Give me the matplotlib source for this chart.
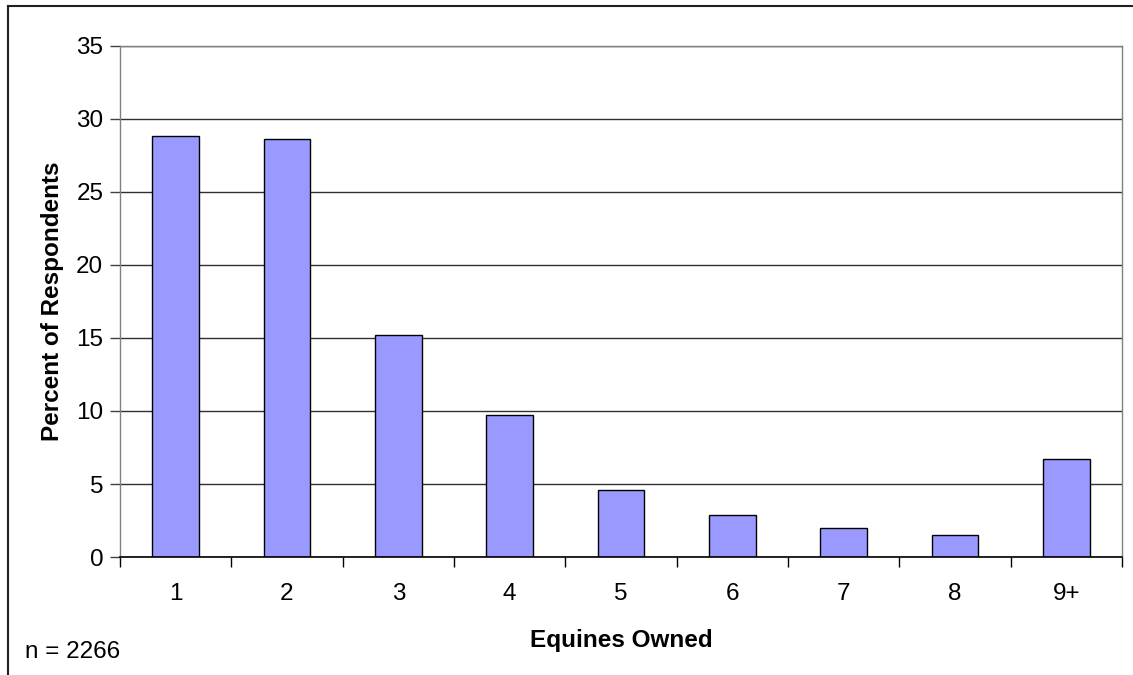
import matplotlib.pyplot as plt
from matplotlib.lines import Line2D

plt.rcParams['font.family'] = ['Liberation Sans', 'DejaVu Sans']

# data
categories = ['1', '2', '3', '4', '5', '6', '7', '8', '9+']
percent = [28.8, 28.6, 15.2, 9.7, 4.6, 2.9, 2.0, 1.5, 6.7]
y_ticks = [0, 5, 10, 15, 20, 25, 30, 35]

fig = plt.figure(figsize=(11.33, 6.75), dpi=100)
ax = fig.add_axes([0.1059, 0.1748, 0.8844, 0.7571])

x = range(len(categories))
ax.bar(x, percent, width=0.42, color='#9999FF', edgecolor='#000000',
       linewidth=1.0, zorder=3)

ax.set_xlim(-0.5, len(categories) - 0.5)
ax.set_ylim(0, 35)
ax.set_yticks(y_ticks)
ax.set_yticklabels([str(v) for v in y_ticks], fontsize=17.5)

# categories labelled in the middle, tick marks between them
ax.set_xticks(list(x))
ax.set_xticklabels(categories, fontsize=17.5)
ax.tick_params(axis='x', length=0, pad=19)
ax.set_xticks([i - 0.5 for i in range(len(categories) + 1)], minor=True)
ax.tick_params(axis='x', which='minor', length=7, width=1, color='#000000')
ax.tick_params(axis='y', length=7, width=1, color='#404040', pad=5)

ax.grid(axis='y', color='#303030', linewidth=1.0, zorder=0)

for s in ['left', 'right', 'top']:
    ax.spines[s].set_color('#808080')
    ax.spines[s].set_linewidth(1.0)
ax.spines['bottom'].set_color('#000000')
ax.spines['bottom'].set_linewidth(1.2)
ax.spines['bottom'].set_zorder(4)

ax.set_xlabel('Equines Owned', fontsize=17.5, fontweight='bold', labelpad=17)
ax.set_ylabel('Percent of Respondents', fontsize=17.5, fontweight='bold', labelpad=9)

fig.text(25 / 1133, 1 - 652 / 675, 'n = 2266', fontsize=17.5, va='center', ha='left')

# outer chart frame (only top and left edges show)
fig.add_artist(Line2D([8 / 1133, 8 / 1133], [0, 1 - 6 / 675], color='#202020',
                      linewidth=1.5, transform=fig.transFigure))
fig.add_artist(Line2D([8 / 1133, 1], [1 - 6 / 675, 1 - 6 / 675], color='#202020',
                      linewidth=1.5, transform=fig.transFigure))

fig.savefig('out.png', dpi=100)
